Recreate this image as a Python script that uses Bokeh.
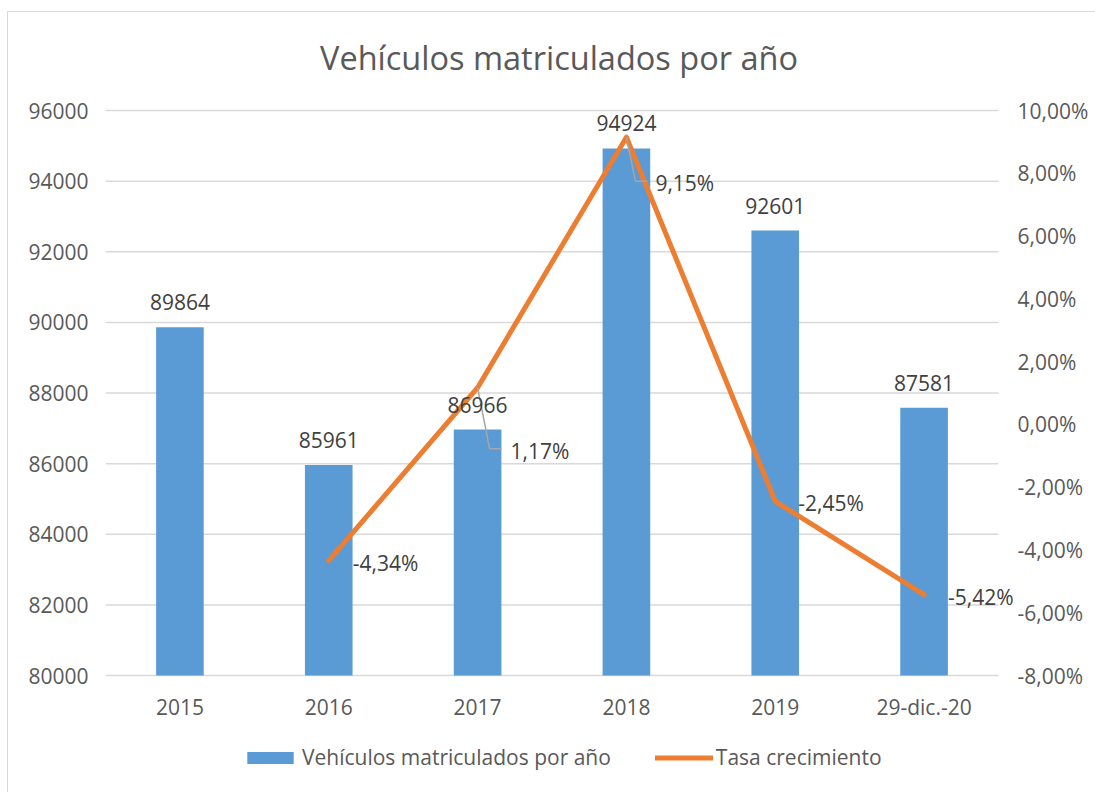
from bokeh.plotting import figure
from bokeh.models import (Range1d, LinearAxis, FixedTicker, Legend, LegendItem,
                          ColumnDataSource)
from bokeh.core.properties import value
from bokeh.embed import file_html
from bokeh.resources import INLINE

# ---- data ----
categories = ["2015", "2016", "2017", "2018", "2019", "29-dic.-20"]
vehicles = [89864, 85961, 86966, 94924, 92601, 87581]
growth_categories = ["2016", "2017", "2018", "2019", "29-dic.-20"]
growth_pct = [-4.34, 1.17, 9.15, -2.45, -5.42]
left_ticks = [80000, 82000, 84000, 86000, 88000, 90000, 92000, 94000, 96000]
right_ticks = [-8, -6, -4, -2, 0, 2, 4, 6, 8, 10]
right_tick_labels = ["-8,00%", "-6,00%", "-4,00%", "-2,00%", "0,00%",
                     "2,00%", "4,00%", "6,00%", "8,00%", "10,00%"]
title_text = "Vehículos matriculados por año"
bar_series_name = "Vehículos matriculados por año"
line_series_name = "Tasa crecimiento"

FONT = "Open Sans"
GRID = "#d9d9d9"
TICK_COLOR = "#595959"
LABEL_COLOR = "#404040"
BLUE = "#5B9BD5"
ORANGE = "#ED7D31"

W, H = 1087, 780
BL, BR, BT, BB = 97, 81, 0, 8
top_h = 98                           # room above the value area (title)
plot_h = 565                         # height of the value area (80000..96000)
bottom_h = H - BT - BB - plot_h - top_h   # room under the value area (labels, legend)
n = len(categories)
cat_w = 893 / n                      # px per category slot
x_extra = 16 / cat_w                 # frame extends a little beyond the last slot

lo, hi = left_ticks[0], left_ticks[-1]
rlo, rhi = right_ticks[0], right_ticks[-1]
y_start = lo - bottom_h * (hi - lo) / plot_h
y_end = hi + top_h * (hi - lo) / plot_h
r_start = rlo - bottom_h * (rhi - rlo) / plot_h
r_end = rhi + top_h * (rhi - rlo) / plot_h

cat_pos = {c: i + 0.5 for i, c in enumerate(categories)}

p = figure(width=W, height=H, x_range=Range1d(0, n + x_extra),
           y_range=Range1d(y_start, y_end),
           output_backend="svg", toolbar_location=None,
           min_border_left=BL, min_border_right=BR, min_border_top=BT, min_border_bottom=BB)
p.extra_y_ranges = {"pct": Range1d(r_start, r_end)}
p.outline_line_color = None
p.background_fill_color = "white"
p.border_fill_color = "white"
p.styles = {"margin-left": "8px", "margin-top": "12px", "outline": "1.5px solid #d9d9d9"}

# axes
p.xaxis.visible = False
p.yaxis.ticker = FixedTicker(ticks=left_ticks)
p.yaxis.major_label_overrides = {t: str(t) for t in left_ticks}

ry = LinearAxis(y_range_name="pct", ticker=FixedTicker(ticks=right_ticks))
ry.major_label_overrides = dict(zip(right_ticks, right_tick_labels))
p.add_layout(ry, "right")

for ax in (p.yaxis[0], ry):
    ax.axis_line_color = None
    ax.major_tick_line_color = None
    ax.minor_tick_line_color = None
    ax.major_tick_out = 0
    ax.major_tick_in = 0
    ax.minor_tick_out = 0
    ax.major_label_text_font = FONT
    ax.major_label_text_font_size = "21px"
    ax.major_label_text_color = TICK_COLOR
p.yaxis.major_label_standoff = 17
ry.major_label_standoff = 3

p.xgrid.grid_line_color = None
p.ygrid.grid_line_color = None
# horizontal gridlines spanning the category slots only
p.segment(x0=0, x1=n, y0=left_ticks, y1=left_ticks, line_color=GRID, line_width=1.5)

# title
p.text(x=[n / 2 + 7 / cat_w], y=[hi], text=[title_text], y_offset=-53,
       text_align="center", text_baseline="middle", text_font=value(FONT),
       text_font_size="32.5px", text_color=TICK_COLOR)

# category labels under the value area
csrc = ColumnDataSource(dict(x=[cat_pos[c] for c in categories], y=[lo] * n, t=categories))
p.text(x="x", y="y", text="t", source=csrc, text_align="center", text_baseline="middle",
       y_offset=31, text_font=value(FONT), text_font_size="21px", text_color=TICK_COLOR)

# bars
src = ColumnDataSource(dict(x=[cat_pos[c] for c in categories], top=vehicles,
                            lab=[str(v) for v in vehicles]))
bars = p.vbar(x="x", top="top", bottom=lo, width=0.32, source=src,
              fill_color=BLUE, line_color=None)

# line
lsrc = ColumnDataSource(dict(x=[cat_pos[c] for c in growth_categories], y=growth_pct,
                             lab=[("%.2f%%" % v).replace(".", ",") for v in growth_pct]))
line = p.line(x="x", y="y", source=lsrc, y_range_name="pct", line_color=ORANGE,
              line_width=5, line_join="round", line_cap="round")

# leader lines for displaced labels (screen px offsets converted to data units)
pct_per_px = (rhi - rlo) / plot_h
leader_px = {1: [(0, 0), (12, 61), (24, 61)], 2: [(0, 0), (9, 44), (21, 44)]}
lx, ly = [], []
for i, pts in leader_px.items():
    lx.append([cat_pos[growth_categories[i]] + dx / cat_w for dx, dy in pts])
    ly.append([growth_pct[i] - dy * pct_per_px for dx, dy in pts])
p.multi_line(xs=lx, ys=ly, y_range_name="pct", line_color="#a6a6a6", line_width=1.5)

# bar labels
p.text(x="x", y="top", text="lab", source=src, text_align="center", text_baseline="middle",
       y_offset=-25, text_font=value(FONT), text_font_size="21px", text_color=LABEL_COLOR)

# percentage labels
lsrc.data["dx"] = [24, 33, 29, 23, 24]
lsrc.data["dy"] = [2, 63, 46, 2, 2]
p.text(x="x", y="y", text="lab", source=lsrc, y_range_name="pct", x_offset="dx", y_offset="dy",
       text_align="left", text_baseline="middle", text_font=value(FONT),
       text_font_size="21px", text_color=LABEL_COLOR)

legend = Legend(items=[LegendItem(label=bar_series_name, renderers=[bars]),
                       LegendItem(label=line_series_name, renderers=[line])],
                orientation="horizontal", location=(136, 13))
legend.border_line_color = None
legend.background_fill_alpha = 0
legend.label_text_font = FONT
legend.label_text_font_size = "21px"
legend.label_text_color = TICK_COLOR
legend.glyph_width = 58
legend.glyph_height = 15
legend.spacing = 44
legend.label_standoff = 3
legend.padding = 0
legend.margin = 0
p.add_layout(legend, "center")

open("out.html", "w").write(file_html(p, INLINE))
